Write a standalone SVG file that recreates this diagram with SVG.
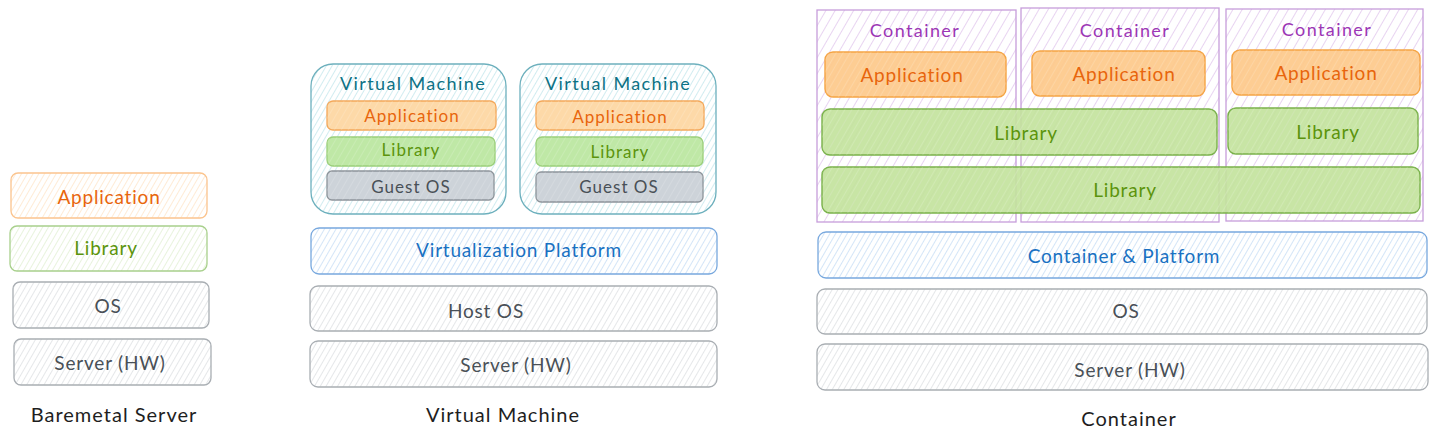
<svg xmlns="http://www.w3.org/2000/svg" width="1437" height="442" viewBox="0 0 1437 442">
<defs>
<pattern id="hGrey" width="5" height="5" patternUnits="userSpaceOnUse" patternTransform="rotate(30)"><line x1="0" y1="0" x2="0" y2="5" stroke="#c6cacf" stroke-width="0.9"/></pattern>
<pattern id="hOrange" width="5" height="5" patternUnits="userSpaceOnUse" patternTransform="rotate(30)"><line x1="0" y1="0" x2="0" y2="5" stroke="#fed2a4" stroke-width="0.9"/></pattern>
<pattern id="hGreen" width="5" height="5" patternUnits="userSpaceOnUse" patternTransform="rotate(30)"><line x1="0" y1="0" x2="0" y2="5" stroke="#cde5b4" stroke-width="0.9"/></pattern>
<pattern id="hBlue" width="5" height="5" patternUnits="userSpaceOnUse" patternTransform="rotate(30)"><line x1="0" y1="0" x2="0" y2="5" stroke="#a9cbef" stroke-width="1"/></pattern>
<pattern id="hTeal" width="5" height="5" patternUnits="userSpaceOnUse" patternTransform="rotate(30)"><line x1="0" y1="0" x2="0" y2="5" stroke="#a3d9e2" stroke-width="1"/></pattern>
<pattern id="hPurple" width="8" height="8" patternUnits="userSpaceOnUse" patternTransform="rotate(30)"><line x1="0" y1="0" x2="0" y2="8" stroke="#dbbdea" stroke-width="1.3"/></pattern>
<pattern id="hDark" width="6" height="6" patternUnits="userSpaceOnUse" patternTransform="rotate(30)"><line x1="0" y1="0" x2="0" y2="6" stroke="#ffffff" stroke-opacity="0.3" stroke-width="1"/></pattern>
</defs>
<style>
text{font-family:"Lato","Open Sans","Liberation Sans",sans-serif;text-anchor:middle;dominant-baseline:central;}
.t{font-size:19px;letter-spacing:0.8px;}
.s{font-size:17px;letter-spacing:1px;}
.tt{font-size:18px;letter-spacing:1.4px;}
.cap{font-size:20px;letter-spacing:1px;fill:#1e1e1e;}
.grey{stroke:#a9aeb3;stroke-width:1.3;fill:url(#hGrey);}
.orangeL{stroke:#fbc48e;stroke-width:1.3;fill:url(#hOrange);}
.greenL{stroke:#a8d08c;stroke-width:1.3;fill:url(#hGreen);}
.blue{stroke:#78a8de;stroke-width:1.3;fill:url(#hBlue);}
.teal{stroke:#6db0bd;stroke-width:1.3;fill:url(#hTeal);}
.purple{stroke:#c79ddb;stroke-width:1.3;fill:url(#hPurple);}
.appV{stroke:#f4a85a;stroke-width:1.3;fill:#fdd9a8;}
.libV{stroke:#9bcf7a;stroke-width:1.3;fill:#bfe8a6;}
.gos{stroke:#8d949a;stroke-width:1.3;fill:#cdd3d9;}
.appC{stroke:#f5a444;stroke-width:1.4;fill:#fdc98a;fill-opacity:0.92;}
.libC{stroke:#79b14a;stroke-width:1.4;fill:#c2e29b;fill-opacity:0.9;}
.ov{fill:url(#hDark);stroke:none;}
.tO{fill:#e8650c;}
.tG{fill:#5c940d;}
.tK{fill:#495057;}
.tB{fill:#1971c2;}
.tT{fill:#0c7285;}
.tP{fill:#9c36b5;}
</style>

<!-- Baremetal -->
<g id="bm-app"><rect class="orangeL" x="11" y="173" width="196" height="45" rx="7"/><text class="t tO" x="109" y="196">Application</text></g>
<g id="bm-lib"><rect class="greenL" x="10" y="226" width="197" height="45" rx="7"/><text class="t tG" x="106" y="247">Library</text></g>
<g id="bm-os"><rect class="grey" x="13" y="282" width="196" height="46" rx="7"/><text class="t tK" x="108" y="305">OS</text></g>
<g id="bm-hw"><rect class="grey" x="14" y="339" width="197" height="46" rx="7"/><text class="t tK" x="110" y="362">Server (HW)</text></g>
<g id="bm-label"><text class="cap" x="114" y="414">Baremetal Server</text></g>

<!-- Virtual Machine -->
<g id="vm1"><rect class="teal" x="311" y="64" width="195" height="150" rx="22"/><text class="tt tT" x="413" y="83">Virtual Machine</text></g>
<g id="vm1-app"><rect class="appV" x="327" y="101" width="169" height="29" rx="6"/><rect class="ov" x="327" y="101" width="169" height="29" rx="6"/><text class="s tO" x="412" y="115">Application</text></g>
<g id="vm1-lib"><rect class="libV" x="327" y="137" width="168" height="29" rx="6"/><rect class="ov" x="327" y="137" width="168" height="29" rx="6"/><text class="s tG" x="411" y="149">Library</text></g>
<g id="vm1-os"><rect class="gos" x="327" y="171" width="167" height="29" rx="5"/><rect class="ov" x="327" y="171" width="167" height="29" rx="5"/><text class="s tK" x="411" y="186">Guest OS</text></g>

<g id="vm2"><rect class="teal" x="520" y="64" width="196" height="150" rx="22"/><text class="tt tT" x="618" y="83">Virtual Machine</text></g>
<g id="vm2-app"><rect class="appV" x="536" y="101" width="168" height="29" rx="6"/><rect class="ov" x="536" y="101" width="168" height="29" rx="6"/><text class="s tO" x="620" y="116">Application</text></g>
<g id="vm2-lib"><rect class="libV" x="536" y="137" width="167" height="29" rx="6"/><rect class="ov" x="536" y="137" width="167" height="29" rx="6"/><text class="s tG" x="620" y="151">Library</text></g>
<g id="vm2-os"><rect class="gos" x="536" y="172" width="167" height="30" rx="5"/><rect class="ov" x="536" y="172" width="167" height="30" rx="5"/><text class="s tK" x="619" y="186">Guest OS</text></g>

<g id="vm-platform"><rect class="blue" x="311" y="228" width="406" height="46" rx="8"/><text class="t tB" x="519" y="249">Virtualization Platform</text></g>
<g id="vm-hostos"><rect class="grey" x="310" y="286" width="407" height="45" rx="8"/><text class="t tK" x="486" y="310">Host OS</text></g>
<g id="vm-hw"><rect class="grey" x="310" y="341" width="407" height="46" rx="8"/><text class="t tK" x="516" y="364">Server (HW)</text></g>
<g id="vm-label"><text class="cap" x="503" y="414">Virtual Machine</text></g>

<!-- Container -->
<g id="c1"><rect class="purple" x="817" y="10" width="199" height="212"/><text class="tt tP" x="915" y="30">Container</text></g>
<g id="c2"><rect class="purple" x="1021" y="8" width="198" height="214"/><text class="tt tP" x="1125" y="30">Container</text></g>
<g id="c3"><rect class="purple" x="1226" y="9" width="197" height="212"/><text class="tt tP" x="1327" y="29">Container</text></g>

<g id="c1-app"><rect class="appC" x="825" y="52" width="181" height="45" rx="8"/><rect class="ov" x="825" y="52" width="181" height="45" rx="8"/><text class="t tO" x="912" y="74">Application</text></g>
<g id="c2-app"><rect class="appC" x="1032" y="51" width="173" height="45" rx="8"/><rect class="ov" x="1032" y="51" width="173" height="45" rx="8"/><text class="t tO" x="1124" y="73">Application</text></g>
<g id="c3-app"><rect class="appC" x="1232" y="50" width="188" height="45" rx="8"/><rect class="ov" x="1232" y="50" width="188" height="45" rx="8"/><text class="t tO" x="1326" y="72">Application</text></g>

<g id="c-lib-shared"><rect class="libC" x="822" y="109" width="395" height="46" rx="8"/><rect class="ov" x="822" y="109" width="395" height="46" rx="8"/><text class="t tG" x="1026" y="132">Library</text></g>
<g id="c3-lib"><rect class="libC" x="1228" y="108" width="190" height="46" rx="8"/><rect class="ov" x="1228" y="108" width="190" height="46" rx="8"/><text class="t tG" x="1328" y="131">Library</text></g>
<g id="c-lib-all"><rect class="libC" x="822" y="167" width="598" height="46" rx="8"/><rect class="ov" x="822" y="167" width="598" height="46" rx="8"/><text class="t tG" x="1125" y="189">Library</text></g>

<g id="c-platform"><rect class="blue" x="818" y="232" width="609" height="46" rx="8"/><text class="t tB" x="1124" y="255">Container &amp; Platform</text></g>
<g id="c-os"><rect class="grey" x="817" y="289" width="610" height="45" rx="8"/><text class="t tK" x="1126" y="310">OS</text></g>
<g id="c-hw"><rect class="grey" x="817" y="344" width="611" height="46" rx="8"/><text class="t tK" x="1130" y="369">Server (HW)</text></g>
<g id="c-label"><text class="cap" x="1129" y="418">Container</text></g>

<g id="connectors"></g>
</svg>
